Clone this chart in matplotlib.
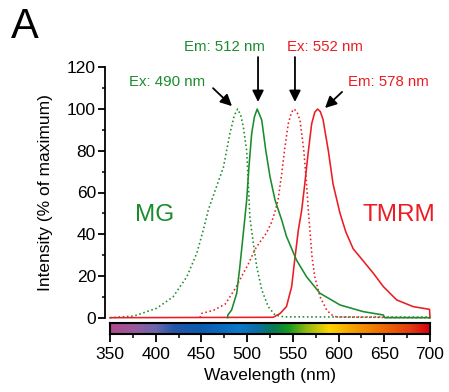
import matplotlib
matplotlib.use('Agg')
import matplotlib.pyplot as plt
from matplotlib.colors import LinearSegmentedColormap
from matplotlib.ticker import MultipleLocator
import numpy as np

plt.rcParams['font.family'] = ['Liberation Sans', 'DejaVu Sans']

GREEN = '#1a8c2c'
RED = '#ec1c24'

# MG excitation (dotted green)
mg_ex_wl = [350, 376, 401, 419, 434, 445, 452, 457.5, 465, 474, 481, 486, 489.6,
            493, 495.8, 499.5, 501.3, 503, 506.8, 510.5, 516, 523, 530.5, 540, 700]
mg_ex = [0, 0.8, 4.5, 10, 19.6, 31, 42, 51.6, 61, 72, 88, 97, 100,
         97, 91.5, 80, 64, 48, 35.6, 24.4, 13.3, 5.3, 1.3, 0.4, 0.3]

# MG emission (solid green)
mg_em_wl = [478.7, 478.9, 483, 488.6, 492, 495.8, 499.5, 502, 505, 508, 511,
            516, 520.3, 525, 530.5, 537.8, 543, 554, 565, 579.7, 601.6, 627,
            649, 650.5, 700]
mg_em = [0, 1.3, 3.7, 11.7, 24.4, 40.4, 56.4, 72.4, 88.4, 96.3, 100,
         94.7, 80.4, 67.6, 56.4, 46.8, 39, 27.6, 19.6, 11.7, 6.1, 2.9,
         1.3, 0, 0]

# TMRM excitation (dotted red)
tmrm_ex_wl = [448.4, 450, 463, 476, 487, 501, 509, 516, 521, 527, 531, 534,
              537.8, 541.4, 545, 548.5, 551.6, 555, 557.8, 562, 565, 567, 569,
              571, 574, 579.7, 587, 592, 598, 700]
tmrm_ex = [0, 2, 3.5, 6.5, 14, 25.5, 33, 37.5, 40.5, 46, 51.6, 57,
           69, 82, 93, 98.5, 100, 98, 94.7, 80, 64, 51, 40,
           29, 19.6, 10, 3.7, 1.5, 0.3, 0]

# TMRM emission (solid red)
tmrm_em_wl = [350, 528.6, 536, 543, 548.7, 552, 556, 559.7, 563, 567, 570.6,
              574, 577, 580, 583, 588.8, 594, 601.6, 608, 616, 627, 638, 649,
              663.6, 681.7, 699.5, 700]
tmrm_em = [0, 0.2, 2, 5.3, 14.9, 27.6, 42, 51.6, 64, 80, 93,
           98.5, 100, 98.8, 95, 80, 64, 50, 41, 33, 27.2, 21.3, 14.9,
           8.5, 5.3, 4, 0]

# spectrum bar colour stops
bar_wl = [350, 375, 400, 420, 450, 490, 510, 530, 545, 565, 590, 620, 650, 680, 700]
bar_col = ['#b04a8c', '#9a5a9c', '#6a66aa', '#2456a8', '#0a5cb0', '#0a78cc',
           '#0a6ea8', '#087a50', '#119a20', '#90b810', '#ffd500', '#f59a00',
           '#ef6a00', '#e23a10', '#d80010']

W, H = 449, 392
fig = plt.figure(figsize=(W / 100, H / 100), dpi=100)
fig.patch.set_facecolor('white')

ax = fig.add_axes([110 / W, 1 - 317.7 / H, 320 / W, 250.4 / H])
ax.plot(mg_ex_wl, mg_ex, ':', color=GREEN, lw=1.15, clip_on=False)
ax.plot(tmrm_ex_wl, tmrm_ex, ':', color=RED, lw=1.15, clip_on=False)
ax.plot(tmrm_em_wl, tmrm_em, '-', color=RED, lw=1.15, clip_on=False)
ax.plot(mg_em_wl, mg_em, '-', color=GREEN, lw=1.15, clip_on=False)

ax.set_xlim(350, 700)
ax.set_ylim(0, 120)
ax.set_xticks([])
for s in ('top', 'right', 'bottom'):
    ax.spines[s].set_visible(False)
ax.spines['left'].set_position(('outward', 3.6))
ax.spines['left'].set_bounds(0, 120)
ax.spines['left'].set_linewidth(1.3)
ax.yaxis.set_major_locator(MultipleLocator(20))
ax.yaxis.set_minor_locator(MultipleLocator(10))
ax.tick_params(axis='y', which='major', length=5, width=1.3, pad=1.5, labelsize=12.5)
ax.tick_params(axis='y', which='minor', length=2.5, width=1.1)
ax.set_ylabel('Intensity (% of maximum)', fontsize=12.5)
ax.yaxis.set_label_coords(-0.178, 0.5)

# peak labels and arrows
labels = [
    ('Ex: 490 nm', 412, 112.9, GREEN, (462.7, 110), (483.4, 101.4)),
    ('Em: 512 nm', 474.7, 129.7, GREEN, (511.9, 124.9), (511.9, 103.4)),
    ('Ex: 552 nm', 585, 129.7, RED, (552.3, 124.9), (552.3, 103.4)),
    ('Em: 578 nm', 655, 112.9, RED, (603.8, 108.2), (585.2, 100.5)),
]
for s, tx, ty, c, tail, head in labels:
    ax.text(tx, ty, s, color=c, fontsize=10.8, ha='center', va='center', clip_on=False)
    ax.annotate('', xy=head, xytext=tail, annotation_clip=False,
                arrowprops=dict(arrowstyle='-|>', color='black', lw=1.3,
                                mutation_scale=17, shrinkA=0, shrinkB=0))

ax.text(399, 49, 'MG', color=GREEN, fontsize=17.5, ha='center', va='center')
ax.text(666, 49, 'TMRM', color=RED, fontsize=17.5, ha='center', va='center')

# spectrum bar with the wavelength axis
cax = fig.add_axes([110 / W, 1 - 334 / H, 320 / W, 11 / H])
pos = [(w - 350) / 350 for w in bar_wl]
cmap = LinearSegmentedColormap.from_list('spec', list(zip(pos, bar_col)))
grad = np.linspace(350, 700, 512)[None, :]
cax.imshow(grad, aspect='auto', cmap=cmap, extent=(350, 700, 0, 1))
cax.set_xlim(350, 700)
cax.set_yticks([])
for s in cax.spines.values():
    s.set_linewidth(1.5)
cax.xaxis.set_major_locator(MultipleLocator(50))
cax.xaxis.set_minor_locator(MultipleLocator(25))
cax.tick_params(axis='x', which='major', length=6, width=1.3, pad=3.5, labelsize=12.5)
cax.tick_params(axis='x', which='minor', length=3, width=1.1)
cax.set_xlabel('Wavelength (nm)', fontsize=12.5, labelpad=4)

fig.text(25 / W, 1 - 27 / H, 'A', fontsize=30, ha='center', va='center')

fig.savefig('out.png', dpi=100, facecolor='white')
